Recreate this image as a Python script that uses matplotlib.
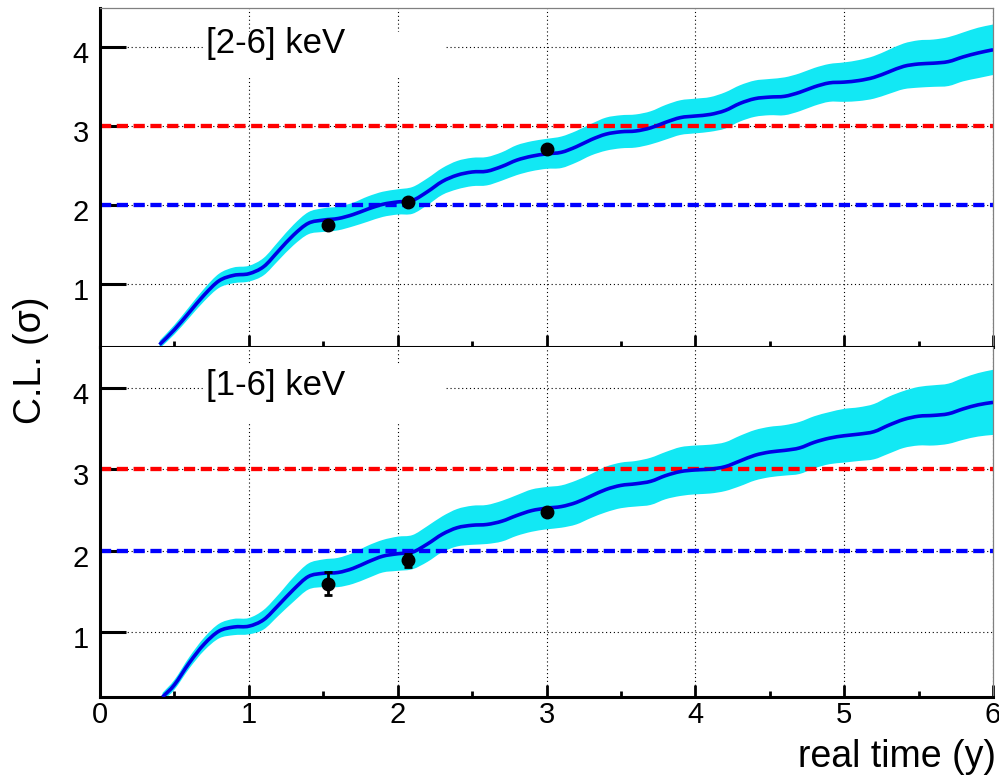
import numpy as np
import matplotlib
matplotlib.use("Agg")
import matplotlib.pyplot as plt
from matplotlib.patches import Rectangle, PathPatch
from matplotlib.path import Path
from matplotlib.transforms import ScaledTranslation

plt.rcParams['font.family'] = ['Liberation Sans', 'DejaVu Sans']

# ---- data -----------------------------------------------------------------
# expected significance vs. live time, [2-6] keV
t_26 = [0.40, 0.50, 0.60, 0.70, 0.80, 0.90, 1.00, 1.10, 1.20, 1.30, 1.40, 1.50,
        1.60, 1.70, 1.80, 1.90, 2.00, 2.10, 2.20, 2.30, 2.40, 2.50, 2.60, 2.70,
        2.80, 2.90, 3.00, 3.10, 3.20, 3.30, 3.40, 3.50, 3.60, 3.70, 3.80, 3.90,
        4.00, 4.10, 4.20, 4.30, 4.40, 4.50, 4.60, 4.70, 4.80, 4.90, 5.00, 5.10,
        5.20, 5.30, 5.40, 5.50, 5.60, 5.70, 5.80, 5.90, 6.00]
cl_26 = [0.23, 0.42, 0.64, 0.86, 1.04, 1.11, 1.13, 1.22, 1.42, 1.62, 1.77, 1.81,
         1.83, 1.88, 1.95, 2.01, 2.04, 2.06, 2.17, 2.30, 2.38, 2.42, 2.43, 2.49,
         2.57, 2.62, 2.65, 2.67, 2.74, 2.83, 2.90, 2.93, 2.94, 2.98, 3.05, 3.11,
         3.13, 3.15, 3.20, 3.29, 3.35, 3.37, 3.38, 3.43, 3.50, 3.55, 3.56, 3.58,
         3.62, 3.69, 3.76, 3.79, 3.80, 3.82, 3.88, 3.93, 3.97]
err_26 = [0.05, 0.06, 0.07, 0.08, 0.09, 0.10, 0.10, 0.11, 0.12, 0.13, 0.14, 0.15,
          0.15, 0.15, 0.16, 0.16, 0.16, 0.17, 0.17, 0.17, 0.18, 0.18, 0.18, 0.18,
          0.19, 0.19, 0.19, 0.20, 0.20, 0.20, 0.21, 0.21, 0.21, 0.21, 0.22, 0.22,
          0.22, 0.22, 0.23, 0.23, 0.23, 0.23, 0.24, 0.24, 0.24, 0.24, 0.25, 0.26,
          0.27, 0.28, 0.29, 0.30, 0.30, 0.31, 0.31, 0.32, 0.32]

# expected significance vs. live time, [1-6] keV
t_16 = [0.42, 0.50, 0.60, 0.70, 0.80, 0.90, 1.00, 1.10, 1.20, 1.30, 1.40, 1.50,
        1.60, 1.70, 1.80, 1.90, 2.00, 2.10, 2.20, 2.30, 2.40, 2.50, 2.60, 2.70,
        2.80, 2.90, 3.00, 3.10, 3.20, 3.30, 3.40, 3.50, 3.60, 3.70, 3.80, 3.90,
        4.00, 4.10, 4.20, 4.30, 4.40, 4.50, 4.60, 4.70, 4.80, 4.90, 5.00, 5.10,
        5.20, 5.30, 5.40, 5.50, 5.60, 5.70, 5.80, 5.90, 6.00]
cl_16 = [0.20, 0.35, 0.62, 0.85, 1.01, 1.06, 1.07, 1.15, 1.33, 1.52, 1.68, 1.72,
         1.73, 1.78, 1.86, 1.93, 1.96, 1.98, 2.08, 2.20, 2.28, 2.31, 2.32, 2.36,
         2.43, 2.49, 2.52, 2.54, 2.59, 2.67, 2.75, 2.80, 2.82, 2.85, 2.92, 2.97,
         2.99, 3.00, 3.03, 3.10, 3.17, 3.21, 3.23, 3.26, 3.33, 3.38, 3.41, 3.43,
         3.46, 3.54, 3.61, 3.65, 3.66, 3.68, 3.74, 3.79, 3.82]
err_16 = [0.05, 0.06, 0.07, 0.08, 0.09, 0.10, 0.10, 0.12, 0.13, 0.15, 0.16, 0.17,
          0.18, 0.19, 0.20, 0.20, 0.21, 0.21, 0.22, 0.22, 0.23, 0.24, 0.24, 0.25,
          0.25, 0.26, 0.26, 0.26, 0.27, 0.27, 0.28, 0.28, 0.28, 0.29, 0.29, 0.30,
          0.30, 0.30, 0.30, 0.31, 0.31, 0.31, 0.31, 0.32, 0.32, 0.32, 0.33, 0.33,
          0.34, 0.35, 0.35, 0.36, 0.37, 0.37, 0.38, 0.39, 0.40]

# measured significances
meas_t = [1.53, 2.07, 3.00]
meas_26 = [1.75, 2.04, 2.71]
meas_26_err = [0.03, 0.03, 0.03]
meas_16 = [1.59, 1.88, 2.47]
meas_16_err = [0.14, 0.08, 0.03]

labels = ["[2-6] keV", "[1-6] keV"]
cl_levels = [3, 2]
cl_colors = ["#ff0000", "#0000ff"]
x_ticks = [0, 1, 2, 3, 4, 5, 6]
y_ticks = [1, 2, 3, 4]


def smooth_path_vertices(x, y):
    """Cubic Bezier segments (Catmull-Rom tangents) passing through every (x, y)."""
    x = np.asarray(x, float); y = np.asarray(y, float)
    n = len(x)
    dx = np.gradient(x); dy = np.gradient(y)
    verts = [(x[0], y[0])]
    codes = [Path.MOVETO]
    for i in range(n - 1):
        verts += [(x[i] + dx[i] / 3, y[i] + dy[i] / 3),
                  (x[i + 1] - dx[i + 1] / 3, y[i + 1] - dy[i + 1] / 3),
                  (x[i + 1], y[i + 1])]
        codes += [Path.CURVE4] * 3
    return verts, codes


def smooth_line(ax, x, y, **kw):
    verts, codes = smooth_path_vertices(x, y)
    ax.add_patch(PathPatch(Path(verts, codes), fill=False, **kw))


def smooth_band(ax, x, lo, hi, **kw):
    v1, c1 = smooth_path_vertices(x, hi)
    v2, c2 = smooth_path_vertices(x[::-1], lo[::-1])
    c2[0] = Path.LINETO
    verts = v1 + v2 + [v1[0]]
    codes = c1 + c2 + [Path.CLOSEPOLY]
    ax.add_patch(PathPatch(Path(verts, codes), **kw))


# ---- figure ---------------------------------------------------------------
fig = plt.figure(figsize=(9.99, 7.76), dpi=100)
ax_top = fig.add_axes([0.1001, 0.5528, 0.8939, 0.4369])
ax_bot = fig.add_axes([0.1001, 0.1018, 0.8939, 0.4510])

panels = [
    (ax_top, t_26, cl_26, err_26, meas_26, meas_26_err, labels[0],
     (0.115, 0.796, 0.2725, 0.133), 0.894, 5.35),
    (ax_bot, t_16, cl_16, err_16, meas_16, meas_16_err, labels[1],
     (0.115, 0.786, 0.2725, 0.163), 0.889, 5.44),
]

for (ax, t, cl, err, mv, me, lab, box, ty, gx) in panels:
    t = np.asarray(t); cl = np.asarray(cl); err = np.asarray(err)
    ax.set_xlim(0, 6)
    ax.set_ylim(0.2, 4.5)

    # dotted grid
    ax.set_axisbelow(True)
    ax.grid(True, which='major', color='black', linestyle=(0, (1, 2.5)),
            linewidth=0.8)

    # white box behind the panel label, and the short break on the 4-sigma grid line
    ax.add_patch(Rectangle(box[:2], box[2], box[3], transform=ax.transAxes,
                           facecolor='white', edgecolor='none', zorder=0.8))
    ax.add_patch(Rectangle((gx, 3.9), 6 - gx, 0.2, facecolor='white',
                           edgecolor='none', zorder=0.8))

    # uncertainty band and central expectation
    smooth_band(ax, t, cl - err, cl + err, facecolor='#12e8f4', edgecolor='none',
                zorder=1)
    for lvl, col in zip(cl_levels, cl_colors):
        ax.axhline(lvl, color=col, linewidth=3.1, linestyle=(0, (2.6, 1.3)), zorder=2)
    smooth_line(ax, t, cl, edgecolor='#0000e6', linewidth=2.6, zorder=3,
                capstyle='butt')

    ax.errorbar(meas_t, mv, yerr=me, fmt='o', color='black', markersize=9,
                elinewidth=2, capsize=3, capthick=2, zorder=4)

    ax.text(0.1187, ty, lab, transform=ax.transAxes, fontsize=25,
            ha='left', va='center', zorder=5)

    # axes styling
    ax.set_xticks(x_ticks)
    ax.set_xticks(np.arange(0.5, 6, 1.0), minor=True)
    ax.set_yticks(y_ticks)
    ax.tick_params(axis='x', which='major', direction='in', length=8.5, width=2,
                   top=False, labelsize=21, pad=3)
    ax.tick_params(axis='x', which='minor', direction='in', length=4.5, width=2,
                   top=False)
    ax.tick_params(axis='y', which='major', direction='in', length=19, width=2.2,
                   right=False, labelsize=21, pad=8)
    for side in ('left', 'bottom'):
        ax.spines[side].set_linewidth(2.2)
        ax.spines[side].set_color('black')
    for side in ('top', 'right'):
        ax.spines[side].set_linewidth(0.9)
        ax.spines[side].set_color('#808080')
    for lab_obj in ax.get_yticklabels():
        lab_obj.set_transform(lab_obj.get_transform() +
                              ScaledTranslation(0, -5 / 100, fig.dpi_scale_trans))

ax_top.tick_params(axis='x', labelbottom=False)
ax_bot.spines['top'].set_visible(False)

fig.text(0.031, 1 - 360 / 776, "C.L. (σ)", rotation=90, fontsize=27,
         ha='center', va='center')
fig.text(996 / 999, 1 - 757 / 776, "real time (y)", fontsize=27,
         ha='right', va='center')

fig.savefig("out.png", dpi=100)
